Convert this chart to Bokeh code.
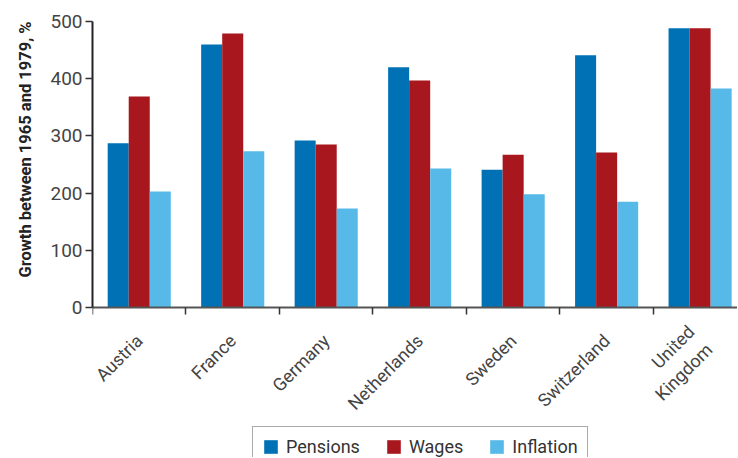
import math
import numpy as np
from bokeh.plotting import figure
from bokeh.models import (ColumnDataSource, Range1d, FixedTicker, Legend, LegendItem, Title)
from bokeh.transform import dodge
from bokeh.embed import file_html
from bokeh.resources import INLINE

countries = ["Austria", "France", "Germany", "Netherlands", "Sweden", "Switzerland", "United\nKingdom"]
pensions = [287, 460, 292, 420, 241, 441, 488]
wages = [369, 479, 285, 397, 267, 271, 488]
inflation = [203, 273, 173, 243, 198, 185, 383]
y_ticks = [0, 100, 200, 300, 400, 500]
series_names = ["Pensions", "Wages", "Inflation"]

FONT = "Roboto"
bar_colors = ["#0071B5", "#A8171D", "#56B9E8"]

n = len(countries)
centers = np.arange(n) + 0.5
bounds = list(np.arange(n + 1).astype(float))
bw = 0.225

# layout: bars area 286 px tall for 0..500; frame extends further down to hold labels/legend
y_max = y_ticks[-1]
bar_px = 286
frame_h = 436
y_start = y_max - frame_h * y_max / bar_px

src = ColumnDataSource(dict(x=centers, pensions=pensions, wages=wages, inflation=inflation))

p = figure(frame_width=645, frame_height=frame_h, output_backend="svg", toolbar_location=None,
           x_range=Range1d(0, 6.9), y_range=Range1d(y_start, y_max),
           min_border_left=92, min_border_top=21, min_border_right=0, min_border_bottom=0)
p.outline_line_color = None
p.xgrid.grid_line_color = None
p.ygrid.grid_line_color = None

leg_items = []
for i, (col, c, name) in enumerate(zip(["pensions", "wages", "inflation"], bar_colors, series_names)):
    r = p.vbar(x=dodge("x", (i - 1) * bw, range=p.x_range), top=col, width=bw,
               source=src, fill_color=c, line_color=None)
    leg_items.append(LegendItem(label=name, renderers=[r]))

# y axis
ya = p.yaxis[0]
ya.ticker = FixedTicker(ticks=y_ticks)
ya.bounds = (y_ticks[0], y_ticks[-1])
ya.major_label_text_font = FONT
ya.major_label_text_font_size = "19px"
ya.major_label_text_color = "#444444"
ya.major_label_standoff = 3
ya.major_tick_in = 0
ya.major_tick_out = 7
ya.minor_tick_line_color = None
ya.axis_line_color = "#222222"
ya.axis_line_width = 2
ya.major_tick_line_color = "#333333"
ya.major_tick_line_width = 1.5

ytitle = Title(text="Growth between 1965 and 1979, %", align="right", offset=0,
               text_font=FONT, text_font_style="bold", text_font_size="16.5px",
               text_color="#222222", standoff=25)
p.add_layout(ytitle, "left")

# x axis, drawn at y = 0
xa = p.xaxis[0]
xa.fixed_location = 0
xa.ticker = FixedTicker(ticks=list(centers), minor_ticks=bounds)
xa.major_label_overrides = {float(c): name for c, name in zip(centers, countries)}
xa.major_label_orientation = math.pi / 4
xa.major_label_text_font = FONT
xa.major_label_text_font_size = "18px"
xa.major_label_text_color = "#444444"
xa.major_label_standoff = 23
xa.major_tick_line_color = None
xa.minor_tick_in = 0
xa.minor_tick_out = 7
xa.minor_tick_line_color = "#333333"
xa.minor_tick_line_width = 1.5
xa.axis_line_color = "#555555"
xa.axis_line_width = 2

legend = Legend(items=leg_items, orientation="horizontal", location=(160, -10),
                label_text_font=FONT, label_text_font_size="18px", label_text_color="#333333",
                glyph_width=17, glyph_height=17, label_standoff=7, spacing=25,
                padding=9, margin=0, border_line_color="#555555", border_line_width=1.5,
                background_fill_alpha=1)
p.add_layout(legend, "center")

open("out.html", "w").write(file_html(p, INLINE))
